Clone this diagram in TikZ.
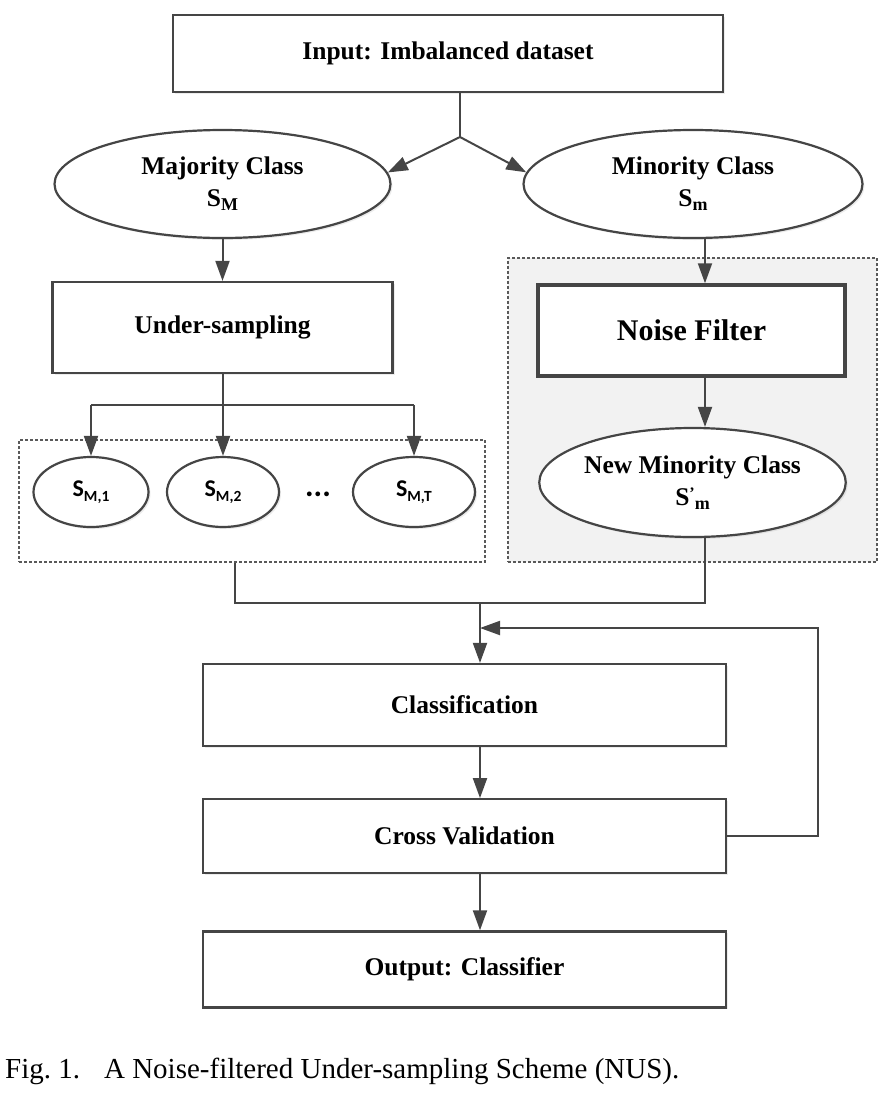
\documentclass[tikz,border=0pt]{standalone}
\usepackage{fontspec}
\setmainfont{Liberation Serif}
\newfontfamily\calfont{Carlito}
\usepackage{xcolor}
\usepackage{tikz}
\usetikzlibrary{positioning, shapes.geometric, arrows.meta, shadows, calc}
\definecolor{linegray}{gray}{0.27}
\definecolor{groupgray}{gray}{0.35}
\definecolor{groupfill}{gray}{0.95}
\newcommand{\lowsub}[1]{\raisebox{-0.35ex}{\fontsize{18}{18}\selectfont #1}}
\newcommand{\sanssub}[1]{\raisebox{-0.4ex}{\fontsize{15.5}{15.5}\selectfont #1}}

\begin{document}
\begin{tikzpicture}[x=1pt, y=-1pt,
    every node/.style={font=\fontsize{25.5}{32}\selectfont\bfseries, align=center, text=black, inner sep=0pt},
    box/.style    ={rectangle, draw=linegray, fill=white, line width=2.2pt,
                    drop shadow={shadow xshift=2pt, shadow yshift=-2pt, opacity=0.15}},
    ellip/.style  ={ellipse, draw=linegray, fill=white, line width=2.2pt,
                    drop shadow={shadow xshift=2pt, shadow yshift=-2pt, opacity=0.15}},
    small/.style  ={ellip, font=\calfont\bfseries\fontsize{24}{26}\selectfont, minimum height=70pt},
    group/.style  ={rectangle, draw=groupgray, densely dashed, line width=1.3pt},
    line/.style   ={draw=linegray, line width=2pt},
    arrow/.style  ={line, -{Triangle[length=20pt, width=14pt]}},
    node distance=51pt
]
\useasboundingbox (0,0) rectangle (888,1101);
% dashed groups (behind)
\node[group, fill=groupfill, minimum width=369pt, minimum height=304pt] (filtgrp) at (692.5,410) {};
\node[group, fill=white, minimum width=466pt, minimum height=122pt] (subgrp) at (252,501) {};
% top
\node[box, minimum width=550pt, minimum height=77pt] (input) at (448,53.5) {Input: Imbalanced dataset};
\node[ellip, minimum width=336pt, minimum height=108pt] (major) at (222.5,184) {Majority Class\\S\lowsub{M}};
\node[ellip, minimum width=339pt, minimum height=108pt] (minor) at (693,184) {Minority Class\\S\lowsub{m}};
% left branch
\node[box, minimum width=340pt, minimum height=91pt] (under) at (222.5,327.5) {Under-sampling};
\node[small, minimum width=115pt] (sm1) at (91,492)  {S\sanssub{M,1}};
\node[small, minimum width=112pt] (sm2) at (223,492) {S\sanssub{M,2}};
\node[font=\calfont\bfseries\fontsize{32}{32}\selectfont] (dots) at (318,494) {...};
\node[small, minimum width=122pt] (smt) at (414,492) {S\sanssub{M,T}};
% right branch
\node[box, line width=3.5pt, font=\fontsize{30}{34}\selectfont\bfseries,
      minimum width=307pt, minimum height=91pt] (noise) at (691.5,330.5) {Noise Filter};
\node[ellip, minimum width=295pt, minimum height=109pt] (newminor) at (692.5,482.5)
      {New Minority Class\\S\raisebox{0.55ex}{\fontsize{16}{16}\selectfont'}\lowsub{m}};
% bottom column
\node[box, minimum width=523pt, minimum height=82pt] (classif) at (464.5,705) {Classification};
\node[box, minimum width=523pt, minimum height=74pt, below=51pt of classif] (cv) {Cross Validation};
\node[box, minimum width=523pt, minimum height=76pt, below=56pt of cv] (output) {Output: Classifier};
% caption
\node[font=\fontsize{29}{34}\selectfont, anchor=base west] (caption) at (5,1078)
      {Fig.~1.\hspace{24pt}A Noise-filtered Under-sampling Scheme (NUS).};
% connectors
\coordinate (split) at (460,137);
\coordinate (rline) at (705,0);
\coordinate (bus) at (0,405);
\coordinate (ltap) at (235,603);
\coordinate (join) at (480,603);
\coordinate (loop) at (818,628);
\draw[line] (input.south -| split) -- (split);
\draw[arrow] (split) -- (major.4);
\draw[arrow] (split) -- (minor.176);
\draw[arrow] (major) -- (under);
\draw[arrow] (minor.south -| rline) -- (noise.north -| rline);
\draw[arrow] (noise.south -| rline) -- (newminor.north -| rline);
\draw[line] (under.south) -- (under.south |- bus);
\draw[line] (sm1 |- bus) -- (smt |- bus);
\foreach \n in {sm1, sm2, smt}
  \draw[arrow] (\n |- bus) -- (\n.north);
\draw[line] (ltap |- subgrp.south) -- (ltap) -| (rline |- newminor.south);
\draw[arrow] (join) -- (join |- classif.north);
\draw[arrow] (join |- classif.south) -- (join |- cv.north);
\draw[arrow] (join |- cv.south) -- (join |- output.north);
\draw[arrow] (cv.east) -| (loop) -- (loop -| join);
\end{tikzpicture}
\end{document}
